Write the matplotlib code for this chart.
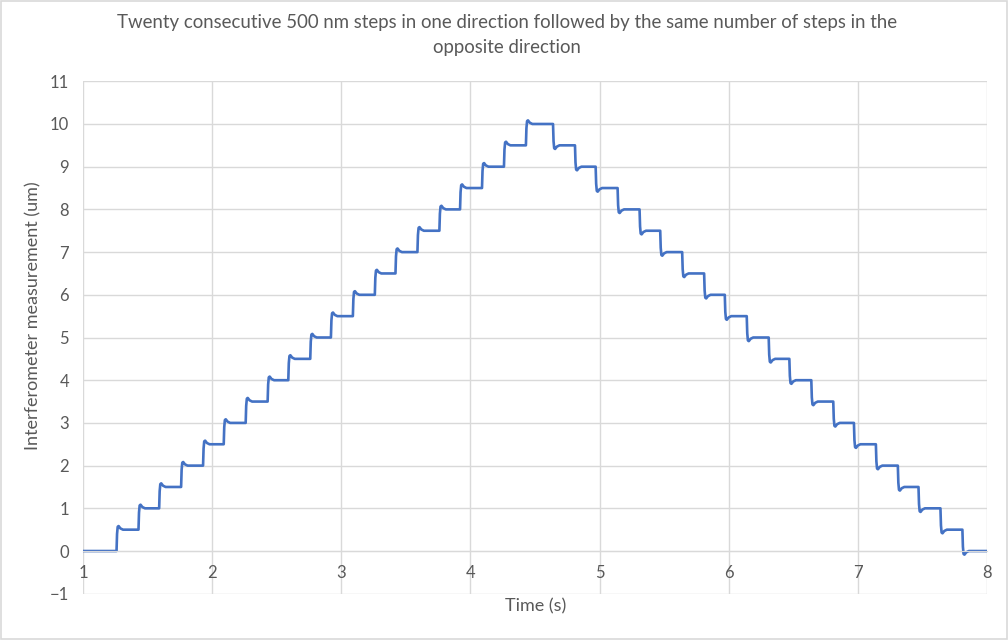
import matplotlib.pyplot as plt
from matplotlib.patches import Rectangle

# step instants (s)
up_times = [1.26, 1.43, 1.59, 1.76, 1.93, 2.09, 2.26, 2.43, 2.59, 2.76,
            2.92, 3.09, 3.26, 3.42, 3.59, 3.76, 3.92, 4.09, 4.26, 4.43]
down_times = [4.64, 4.81, 4.97, 5.14, 5.31, 5.47, 5.64, 5.81, 5.97, 6.14,
              6.31, 6.47, 6.64, 6.81, 6.97, 7.14, 7.31, 7.47, 7.64, 7.81]
up_levels = [0.5, 1.0, 1.5, 2.0, 2.5, 3.0, 3.5, 4.0, 4.5, 5.0,
             5.5, 6.0, 6.5, 7.0, 7.5, 8.0, 8.5, 9.0, 9.5, 10.0]
down_levels = [9.5, 9.0, 8.5, 8.0, 7.5, 7.0, 6.5, 6.0, 5.5, 5.0,
               4.5, 4.0, 3.5, 3.0, 2.5, 2.0, 1.5, 1.0, 0.5, 0.0]
t_start, t_end = 1.0, 8.0
overshoot = 0.085   # um, ringing seen after each step

x_ticks = [1, 2, 3, 4, 5, 6, 7, 8]
y_ticks = [-1, 0, 1, 2, 3, 4, 5, 6, 7, 8, 9, 10, 11]

# build the trace
xs = [t_start]
ys = [0.0]
level = 0.0
for t, new in zip(up_times + down_times, up_levels + down_levels):
    sign = 1 if new > level else -1
    xs += [t, t + 0.004, t + 0.009, t + 0.016, t + 0.03, t + 0.05]
    ys += [level, new - sign*0.1, new + sign*overshoot*0.8, new + sign*overshoot,
           new + sign*overshoot*0.35, new]
    level = new
xs.append(t_end)
ys.append(level)

grey = '#595959'
plt.rcParams['font.family'] = ['Lato', 'DejaVu Sans']

fig = plt.figure(figsize=(10.08, 6.4), dpi=100)
ax = fig.add_axes([0.0823, 0.0723, 0.8968, 0.8007])
fig.patches.append(Rectangle((0.001, 0.001), 0.998, 0.997, transform=fig.transFigure,
                             fill=False, edgecolor='#D9D9D9', linewidth=1.2))

ax.plot(xs, ys, color='#4472C4', linewidth=1.9, solid_joinstyle='round')

ax.set_xlim(1, 8)
ax.set_ylim(-1, 11)
ax.set_xticks(x_ticks)
ax.set_yticks(y_ticks)
ax.grid(True, color='#D9D9D9', linewidth=1)
ax.set_axisbelow(True)
for s in ['top', 'right', 'left']:
    ax.spines[s].set_visible(False)
ax.spines['bottom'].set_position(('data', 0))
ax.spines['bottom'].set_color('#D9D9D9')
ax.tick_params(length=0, labelsize=12, colors=grey, pad=10)
ax.tick_params(axis='x', pad=10)

fig.text(0.503, 0.945, 'Twenty consecutive 500 nm steps in one direction followed by the same number of steps in the\nopposite direction',
         ha='center', va='center', fontsize=13.4, color=grey, linespacing=1.6)
fig.text(0.531, 0.052, 'Time (s)', ha='center', va='center', fontsize=13, color=grey)
fig.text(0.033, 0.507, 'Interferometer measurement (um)', ha='center', va='center',
         rotation=90, fontsize=13, color=grey)

fig.savefig('out.png', dpi=100)
